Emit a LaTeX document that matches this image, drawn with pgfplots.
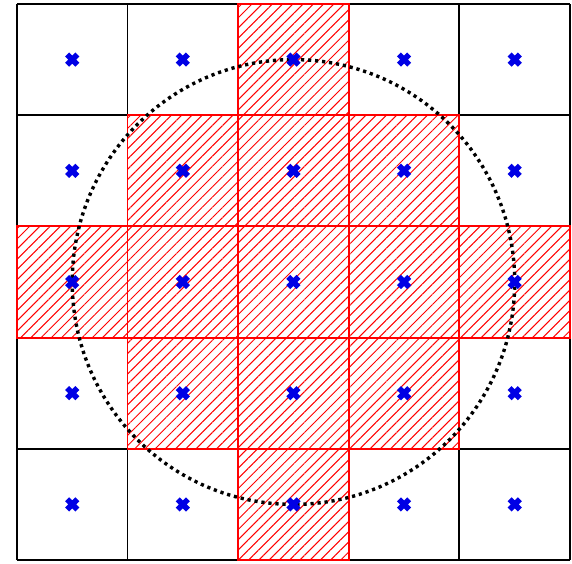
\documentclass[border=0pt]{standalone}
\usepackage{pgfplots}
\pgfplotsset{compat=1.18}
\usetikzlibrary{patterns.meta}

\newcommand\cell[4]{\addplot[red, line width=0.9pt, pattern={Lines[angle=45,distance=3.6pt,line width=0.5pt]}, pattern color=red] coordinates {(#1,#2) (#3,#2) (#3,#4) (#1,#4)} -- cycle;}

\begin{document}
\begin{tikzpicture}
\begin{axis}[hide axis, scale only axis, width=10cm, height=9.843cm,
  xmin=-2.653, xmax=2.518, ymin=-2.527, ymax=2.536, clip=false]
% keep the white margin round the grid
\path (axis cs:-2.653,-2.527) rectangle (axis cs:2.518,2.536);
% black grid
\pgfplotsinvokeforeach{-2.5,-1.5,-0.5,0.5,1.5,2.5}{
  \addplot[black, line width=0.9pt] coordinates {(#1,-2.5) (#1,2.5)};
  \addplot[black, line width=0.9pt] coordinates {(-2.5,#1) (2.5,#1)};
}
% hatched cells (centre within the circle)
\cell{-0.5}{1.5}{0.5}{2.5}
\cell{-1.5}{0.5}{-0.5}{1.5}
\cell{-0.5}{0.5}{0.5}{1.5}
\cell{0.5}{0.5}{1.5}{1.5}
\cell{-2.5}{-0.5}{-1.5}{0.5}
\cell{-1.5}{-0.5}{-0.5}{0.5}
\cell{-0.5}{-0.5}{0.5}{0.5}
\cell{0.5}{-0.5}{1.5}{0.5}
\cell{1.5}{-0.5}{2.5}{0.5}
\cell{-1.5}{-1.5}{-0.5}{-0.5}
\cell{-0.5}{-1.5}{0.5}{-0.5}
\cell{0.5}{-1.5}{1.5}{-0.5}
\cell{-0.5}{-2.5}{0.5}{-1.5}
% dotted circle
\draw[black, line width=1.7pt, dash pattern=on 1.6pt off 1.9pt] (axis cs:0,0) circle [radius=2];
% cell centres
\addplot[only marks, mark=x, mark size=3.6pt, line width=2.8pt, color=blue!90!black] coordinates {
(-2,2) (-1,2) (0,2) (1,2) (2,2)
(-2,1) (-1,1) (0,1) (1,1) (2,1)
(-2,0) (-1,0) (0,0) (1,0) (2,0)
(-2,-1) (-1,-1) (0,-1) (1,-1) (2,-1)
(-2,-2) (-1,-2) (0,-2) (1,-2) (2,-2)};
\end{axis}
\end{tikzpicture}
\end{document}
